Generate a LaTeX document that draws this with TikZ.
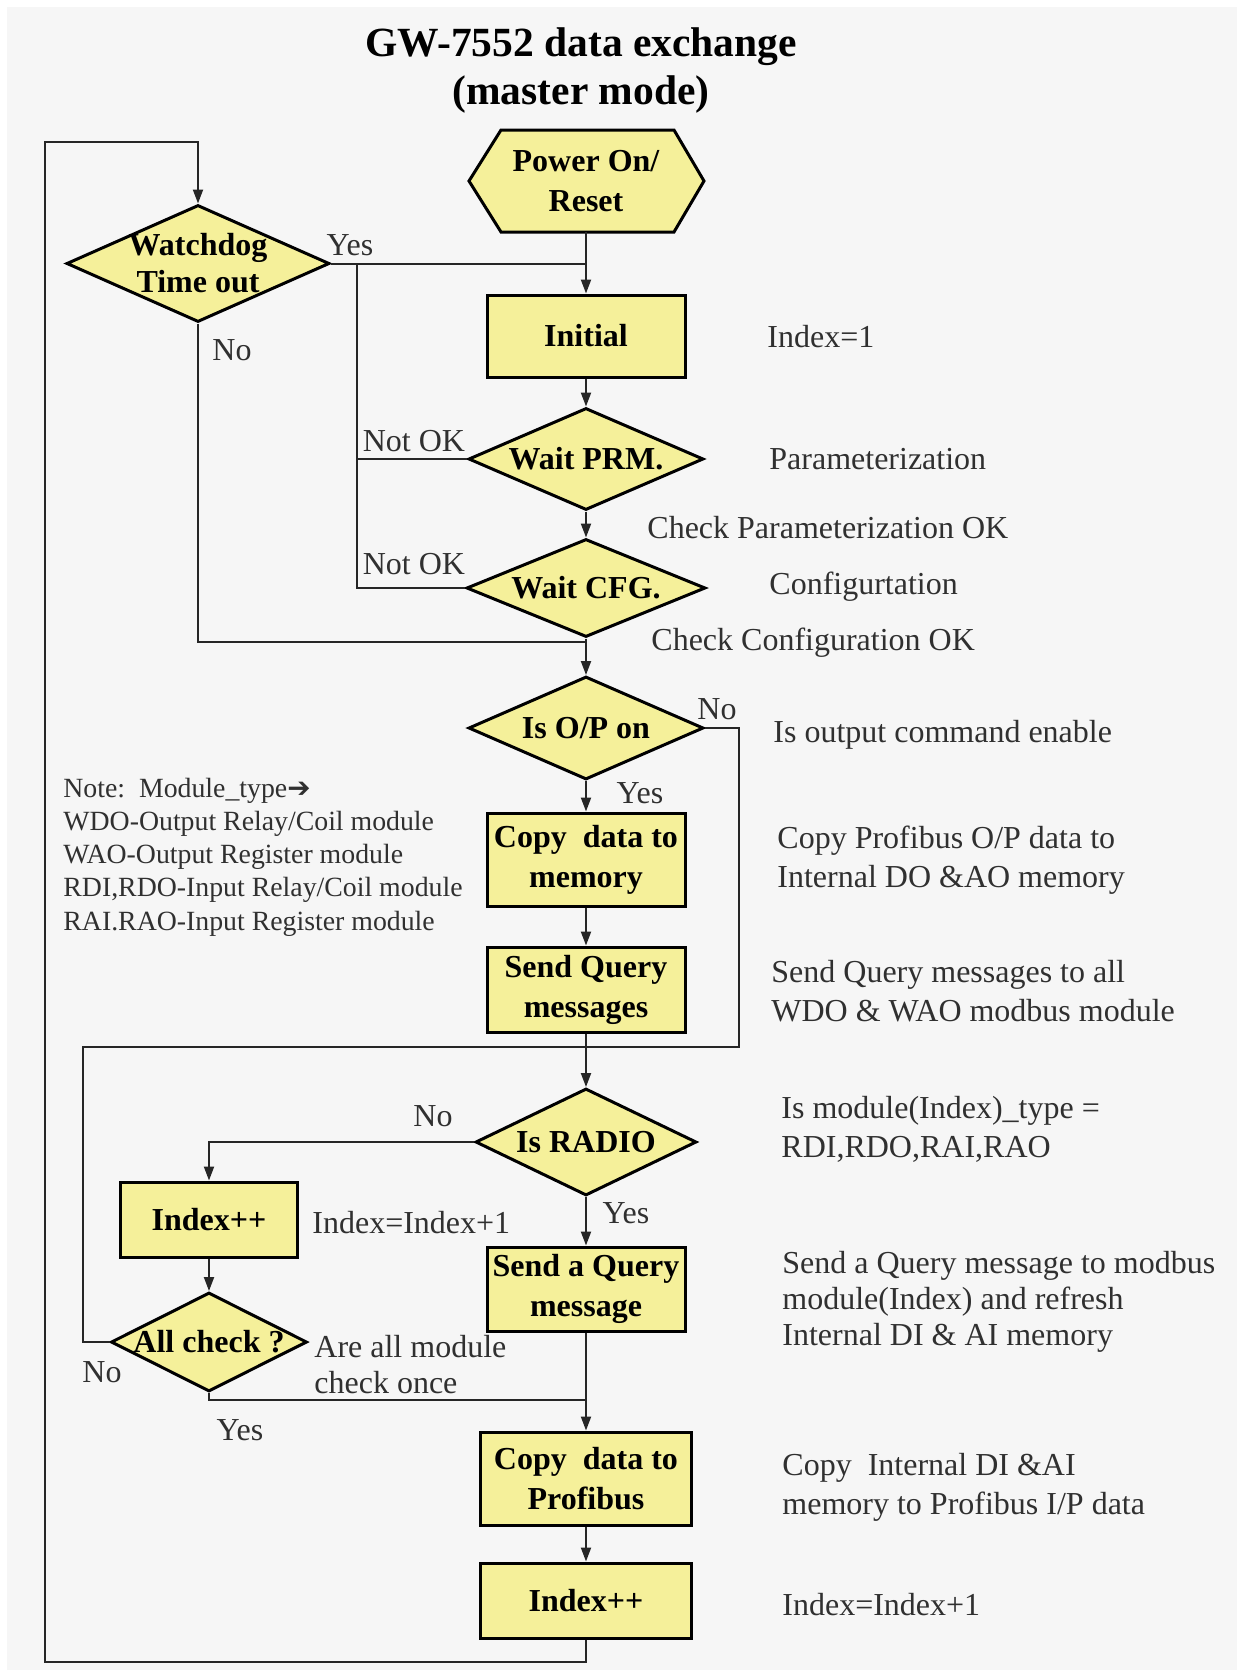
\documentclass[tikz,border=0pt]{standalone}
\usepackage{fontspec}
\setmainfont{Liberation Serif}
\newfontfamily\symfont{DejaVu Sans}
\usetikzlibrary{shapes.geometric,arrows.meta}
\definecolor{bgc}{HTML}{F6F6F6}
\definecolor{boxc}{HTML}{F5F09A}
\definecolor{linec}{HTML}{262626}
\definecolor{txtc}{HTML}{303030}
\begin{document}
\begin{tikzpicture}[x=0.5pt,y=-0.5pt,
  proc/.style={draw=black,line width=1.5pt,fill=boxc,inner sep=0pt,align=center,
    font=\fontsize{16}{20}\selectfont\bfseries},
  dec/.style={diamond,draw=black,line width=1.5pt,fill=boxc,inner sep=0pt},
  dtext/.style={inner sep=0pt,align=center,font=\fontsize{16}{18.5}\selectfont\bfseries},
  conn/.style={draw=linec,line width=1pt},
  arr/.style={conn,-{Triangle[length=7pt,width=5pt]}},
  lab/.style={inner sep=0pt,text=txtc,font=\fontsize{16}{19.5}\selectfont},
  side/.style={lab,anchor=west,align=left}]
\fill[bgc] (7,7) rectangle (1237,1670);
\useasboundingbox (0,0) rectangle (1237,1670);

% title
\node[inner sep=0pt,align=center,font=\fontsize{20.75}{24}\selectfont\bfseries] (title) at (581,71)
  {GW-7552 data exchange\\(master mode)};

% power on hexagon
\draw[line width=1.5pt,fill=boxc] (469,181) -- (501,130) -- (674,130) -- (704,181) -- (674,232) -- (501,232) -- cycle;
\node[dtext,font=\fontsize{16}{20}\selectfont\bfseries,minimum width=117.5pt,minimum height=51pt] (pwr) at (586,181) {Power On/\\Reset};

% main column
\node[proc,minimum width=99pt,minimum height=41pt] (init) at (586,336) {Initial};
\node[dec,minimum width=117.5pt,minimum height=51pt] (wp) at (586,459) {};
\node[dtext] (wpt) at (wp.center) {Wait PRM.};
\node[dec,minimum width=119.5pt,minimum height=49pt] (wc) at (586,588) {};
\node[dtext] (wct) at (wc.center) {Wait CFG.};
\node[dec,minimum width=117.5pt,minimum height=51.5pt] (iop) at (586,728) {};
\node[dtext] (iopt) at (iop.center) {Is O/P on};
\node[proc,minimum width=99pt,minimum height=46.5pt] (cm) at (586,859.5) {Copy\ \ data to\\memory};
\node[proc,minimum width=99pt,minimum height=42.5pt] (sq) at (586,989.5) {Send Query\\messages};
\node[dec,minimum width=110.5pt,minimum height=53.5pt] (rad) at (586,1142) {};
\node[dtext] (radt) at (rad.center) {Is RADIO};
\node[proc,minimum width=99pt,minimum height=42pt] (saq) at (586,1289) {Send a Query\\message};
\node[proc,minimum width=105.5pt,minimum height=46.5pt] (cp) at (586,1478.5) {Copy\ \ data to\\Profibus};
\node[proc,minimum width=105.5pt,minimum height=37.5pt] (idx2) at (586,1600.5) {Index++};

% left column
\node[dec,minimum width=131.5pt,minimum height=58.5pt] (wd) at (198,263.5) {};
\node[dtext] (wdt) at (wd.center) {Watchdog\\Time out};
\node[proc,minimum width=88.5pt,minimum height=37.5pt] (idx1) at (209,1219.5) {Index++};
\node[dec,minimum width=98pt,minimum height=49.5pt] (ac) at (209,1342) {};
\node[dtext] (act) at (ac.center) {All check ?};

% junction coordinates
\coordinate (jv) at (357,264);
\coordinate (jno) at (586,642);
\coordinate (jr) at (739,1047);
\coordinate (jm) at (586,1047);
\coordinate (jl) at (83,1047);
\coordinate (jb) at (586,1400);
\coordinate (b1) at (586,1662);
\coordinate (b2) at (45,1662);
\coordinate (b3) at (45,142);
\coordinate (b4) at (198,142);

% connectors
\draw[arr] (pwr.south) -- (init.north);
\draw[conn] (wd.east) -- (wd.east -| init.north);
\draw[conn] (wp.west) -| (jv);
\draw[conn] (wc.west) -| (jv);
\draw[arr] (init.south) -- (wp.north);
\draw[arr] (wp.south) -- (wc.north);
\draw[arr] (wc.south) -- (iop.north);
\draw[conn] (wd.south) |- (jno);
\draw[conn] (iop.east) -| (jr) -- (jm);
\draw[conn] (ac.west) -| (jl) -- (jm);
\draw[arr] (iop.south) -- (cm.north);
\draw[arr] (cm.south) -- (sq.north);
\draw[arr] (sq.south) -- (rad.north);
\draw[arr] (rad.west) -| (idx1.north);
\draw[arr] (rad.south) -- (saq.north);
\draw[arr] (idx1.south) -- (ac.north);
\draw[conn] (ac.south) |- (jb);
\draw[arr] (saq.south) -- (cp.north);
\draw[arr] (cp.south) -- (idx2.north);
\draw[arr] (idx2.south) -- (b1) -- (b2) -- (b3) -- (b4) -- (wd.north);

% connector labels
\node[lab] (l1) at (350,245) {Yes};
\node[lab] (l2) at (232,350) {No};
\node[lab] (l3) at (414,441) {Not OK};
\node[lab] (l4) at (414,564) {Not OK};
\node[side] (l5) at (647,528) {Check Parameterization OK};
\node[side] (l6) at (651,643) {Check Configuration OK};
\node[lab] (l7) at (717,709) {No};
\node[lab] (l8) at (640,793) {Yes};
\node[lab] (l9) at (433,1116) {No};
\node[lab] (l10) at (626,1213) {Yes};
\node[side] (l11) at (312,1223) {Index=Index+1};
\node[side,font=\fontsize{16}{18}\selectfont] (l12) at (314,1365) {Are all module\\check once};
\node[lab] (l13) at (102,1372) {No};
\node[lab] (l14) at (240,1430) {Yes};

% side annotations
\node[side] (s1) at (767,337) {Index=1};
\node[side] (s2) at (769,459) {Parameterization};
\node[side] (s3) at (769,587) {Configurtation};
\node[side] (s4) at (773,735) {Is output command enable};
\node[side] (s5) at (777,860) {Copy Profibus O/P data to\\Internal DO \&AO memory};
\node[side] (s6) at (771,991) {Send Query messages to all\\WDO \& WAO modbus module};
\node[side] (s7) at (781,1129) {Is module(Index)\_type =\\RDI,RDO,RAI,RAO};
\node[side,font=\fontsize{16}{18}\selectfont] (s8) at (782,1302) {Send a Query message to modbus\\module(Index) and refresh\\Internal DI \& AI memory};
\node[side] (s9) at (782,1487) {Copy\ \ Internal DI \&AI\\memory to Profibus I/P data};
\node[side] (s10) at (782,1605) {Index=Index+1};

% note
\node[side,font=\fontsize{13.9}{16.6}\selectfont] (note) at (63,857)
  {Note:\ \ Module\_type{\symfont ➔}\\WDO-Output Relay/Coil module\\WAO-Output Register module\\RDI,RDO-Input Relay/Coil module\\RAI.RAO-Input Register module};
\end{tikzpicture}
\end{document}
